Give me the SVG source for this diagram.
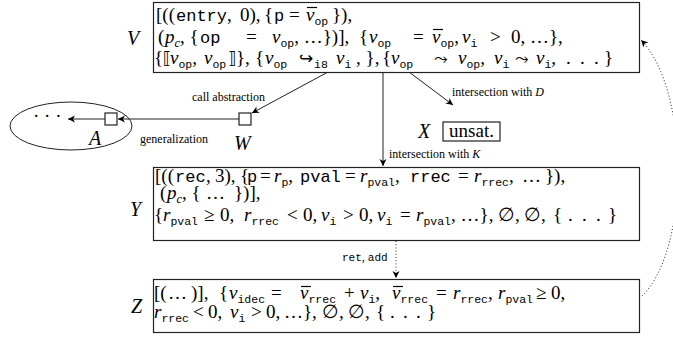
<svg xmlns="http://www.w3.org/2000/svg" width="673" height="337" viewBox="0 0 673 337">
<style>
text{font-family:"Liberation Serif","DejaVu Serif",serif;font-size:19px;fill:#000}
.i{font-style:italic}
.t{font-family:"Liberation Mono","DejaVu Sans Mono",monospace;font-size:17px}
.s{font-style:italic;font-size:12.5px}
.u{font-family:"Liberation Mono","DejaVu Sans Mono",monospace;font-size:11.5px}
.y{font-family:"DejaVu Sans",sans-serif;font-size:17px}
.lb{font-style:italic;font-size:20px}
.sm{font-size:12px}
.tl{font-family:"Liberation Mono","DejaVu Sans Mono",monospace;font-size:11px}
.box{fill:#fff;stroke:#222;stroke-width:1.2}
.ln{stroke:#222;stroke-width:1;fill:none}
.dt{stroke:#222;stroke-width:1;fill:none;stroke-dasharray:1 2.2}
.bar{stroke:#000;stroke-width:1.2}
</style>
<defs>
<marker id="ah" viewBox="-8 -4 9 8" refX="0" refY="0" markerWidth="9" markerHeight="8" markerUnits="userSpaceOnUse" orient="auto"><path d="M0,0 L-7,-3.5 L-5,0 L-7,3.5 Z" fill="#000"/></marker>
</defs>

<g id="connectors">
<line class="ln" x1="328" y1="72" x2="252" y2="113" marker-end="url(#ah)"/>
<line class="ln" x1="409" y1="72" x2="453" y2="105" marker-end="url(#ah)"/>
<line class="ln" x1="383" y1="72" x2="383" y2="166" marker-end="url(#ah)"/>
<line class="ln" x1="239" y1="119" x2="118" y2="119" marker-end="url(#ah)"/>
<line class="ln" x1="105" y1="119" x2="68" y2="119" marker-end="url(#ah)"/>
<line class="dt" x1="396" y1="241" x2="396" y2="278" marker-end="url(#ah)"/>
<path class="dt" d="M642,296 C690,250 690,90 641,40" marker-end="url(#ah)"/>
<text class="sm" x="192" y="101">call abstraction</text>
<text class="sm" x="140" y="143">generalization</text>
<text class="sm" x="452" y="96">intersection with <tspan class="i">D</tspan></text>
<text class="sm" x="389" y="158">intersection with <tspan class="i">K</tspan></text>
<text x="342" y="261"><tspan class="tl">ret</tspan><tspan class="sm">, </tspan><tspan class="tl">add</tspan></text>
</g>

<g id="node-V">
<rect class="box" x="153.5" y="2.5" width="486" height="70"/>
<text class="lb" x="127" y="45">V</text>
<text y="21"><tspan x="156">[((</tspan><tspan class="t" x="176">entry</tspan><tspan x="227">,</tspan><tspan x="240">0),</tspan><tspan x="264">{</tspan><tspan class="t" x="274">p</tspan><tspan x="289">=</tspan><tspan class="i" x="306">v</tspan><tspan class="u" y="24.5">op</tspan><tspan x="332" y="21">}),</tspan></text>
<line class="bar" x1="307" y1="7.5" x2="317" y2="7.5"/>
<text y="43"><tspan x="158">(</tspan><tspan class="i" x="165">p</tspan><tspan class="s" y="46.5">c</tspan><tspan y="43">, {</tspan><tspan class="t" x="200">op</tspan><tspan x="246">=</tspan><tspan class="i" x="272">v</tspan><tspan class="u" y="46.5">op</tspan><tspan y="43">, …})],</tspan><tspan x="359">{</tspan><tspan class="i" x="369">v</tspan><tspan class="u" y="46.5">op</tspan><tspan x="413" y="43">=</tspan><tspan class="i" x="432">v</tspan><tspan class="u" y="46.5">op</tspan><tspan y="43">,</tspan><tspan class="i" x="462">v</tspan><tspan class="u" y="46.5">i</tspan><tspan x="490" y="43">&gt;</tspan><tspan x="511">0, …},</tspan></text>
<line class="bar" x1="433" y1="29.5" x2="443" y2="29.5"/>
<text y="64"><tspan x="154">{</tspan><tspan class="y" x="163">⟦</tspan><tspan class="i" x="170">v</tspan><tspan class="u" y="67.5">op</tspan><tspan y="64">,</tspan><tspan class="i" x="204">v</tspan><tspan class="u" y="67.5">op</tspan><tspan class="y" x="228" y="64">⟧</tspan><tspan x="236">},</tspan><tspan x="255">{</tspan><tspan class="i" x="265">v</tspan><tspan class="u" y="67.5">op</tspan><tspan class="y" x="299" y="64">↪</tspan><tspan class="u" x="314" y="67.5">i8</tspan><tspan class="i" x="336" y="64">v</tspan><tspan class="u" y="67.5">i</tspan><tspan y="64"> , },</tspan><tspan x="382">{</tspan><tspan class="i" x="391">v</tspan><tspan class="u" y="67.5">op</tspan><tspan class="y" x="434" y="64">⤳</tspan><tspan class="i" x="458">v</tspan><tspan class="u" y="67.5">op</tspan><tspan y="64">,</tspan><tspan class="i" x="494">v</tspan><tspan class="u" y="67.5">i</tspan><tspan class="y" x="515" y="64">⤳</tspan><tspan class="i" x="536">v</tspan><tspan class="u" y="67.5">i</tspan><tspan y="64">,</tspan><tspan x="566">.</tspan><tspan x="580">.</tspan><tspan x="594">.</tspan><tspan x="604">}</tspan></text>
</g>

<g id="node-W">
<rect class="box" x="239" y="113" width="12" height="12"/>
<text class="lb" x="234" y="150">W</text>
</g>

<g id="node-A">
<ellipse cx="71" cy="126" rx="61" ry="24" fill="none" stroke="#222" stroke-width="1"/>
<text x="33" y="122">· · ·</text>
<rect class="box" x="105" y="113" width="12" height="12"/>
<text class="lb" x="89" y="145">A</text>
</g>

<g id="node-X">
<rect class="box" x="443" y="122" width="57" height="19"/>
<text x="471.5" y="137" text-anchor="middle">unsat.</text>
<text class="lb" x="418" y="138">X</text>
</g>

<g id="node-Y">
<rect class="box" x="153.5" y="167.5" width="486" height="73"/>
<text class="lb" x="130" y="216">Y</text>
<text y="182"><tspan x="155">[((</tspan><tspan class="t" x="175">rec</tspan><tspan x="206">,</tspan><tspan x="215">3),</tspan><tspan x="240">{</tspan><tspan class="t" x="247">p</tspan><tspan x="260">=</tspan><tspan class="i" x="274">r</tspan><tspan class="u" y="185.5">p</tspan><tspan y="182">,</tspan><tspan class="t" x="300">pval</tspan><tspan x="345">=</tspan><tspan class="i" x="360">r</tspan><tspan class="u" y="185.5">pval</tspan><tspan y="182">,</tspan><tspan class="t" x="410">rrec</tspan><tspan x="458">=</tspan><tspan class="i" x="474">r</tspan><tspan class="u" y="185.5">rrec</tspan><tspan y="182">,</tspan><tspan x="522">…</tspan><tspan x="545">}),</tspan></text>
<text y="199"><tspan x="160">(</tspan><tspan class="i" x="167">p</tspan><tspan class="s" y="202.5">c</tspan><tspan y="199">, {</tspan><tspan x="206">…</tspan><tspan x="234">})],</tspan></text>
<text y="221"><tspan x="154">{</tspan><tspan class="i" x="163">r</tspan><tspan class="u" y="224.5">pval</tspan><tspan x="204" y="221">≥</tspan><tspan x="220">0,</tspan><tspan class="i" x="244">r</tspan><tspan class="u" y="224.5">rrec</tspan><tspan x="287" y="221">&lt;</tspan><tspan x="303">0,</tspan><tspan class="i" x="321">v</tspan><tspan class="u" y="224.5">i</tspan><tspan x="343" y="221">&gt;</tspan><tspan x="359">0,</tspan><tspan class="i" x="377">v</tspan><tspan class="u" y="224.5">i</tspan><tspan x="400" y="221">=</tspan><tspan class="i" x="416">r</tspan><tspan class="u" y="224.5">pval</tspan><tspan y="221">, …},</tspan><tspan x="498">∅</tspan><tspan>,</tspan><tspan x="524">∅</tspan><tspan>,</tspan><tspan x="553">{</tspan><tspan x="568">.</tspan><tspan x="582">.</tspan><tspan x="596">.</tspan><tspan x="608">}</tspan></text>
</g>

<g id="node-Z">
<rect class="box" x="153.5" y="279.5" width="486" height="53"/>
<text class="lb" x="131" y="313">Z</text>
<text y="299"><tspan x="154">[(</tspan><tspan x="168">…</tspan><tspan x="191">)],</tspan><tspan x="219">{</tspan><tspan class="i" x="229">v</tspan><tspan class="u" y="302.5">idec</tspan><tspan x="271" y="299">=</tspan><tspan class="i" x="300">v</tspan><tspan class="u" y="302.5">rrec</tspan><tspan x="344" y="299">+</tspan><tspan class="i" x="360">v</tspan><tspan class="u" y="302.5">i</tspan><tspan y="299">,</tspan><tspan class="i" x="392">v</tspan><tspan class="u" y="302.5">rrec</tspan><tspan x="436" y="299">=</tspan><tspan class="i" x="453">r</tspan><tspan class="u" y="302.5">rrec</tspan><tspan y="299">,</tspan><tspan class="i" x="498">r</tspan><tspan class="u" y="302.5">pval</tspan><tspan x="536" y="299">≥</tspan><tspan x="551">0,</tspan></text>
<line class="bar" x1="301" y1="286.5" x2="311" y2="286.5"/>
<line class="bar" x1="393" y1="286.5" x2="403" y2="286.5"/>
<text y="318"><tspan class="i" x="154">r</tspan><tspan class="u" y="321.5">rrec</tspan><tspan x="193" y="318">&lt;</tspan><tspan x="208">0,</tspan><tspan class="i" x="230">v</tspan><tspan class="u" y="321.5">i</tspan><tspan x="251" y="318">&gt;</tspan><tspan x="266">0,</tspan><tspan x="284">…},</tspan><tspan x="322">∅</tspan><tspan>,</tspan><tspan x="348">∅</tspan><tspan>,</tspan><tspan x="376">{</tspan><tspan x="390">.</tspan><tspan x="403">.</tspan><tspan x="416">.</tspan><tspan x="427">}</tspan></text>
</g>
</svg>
